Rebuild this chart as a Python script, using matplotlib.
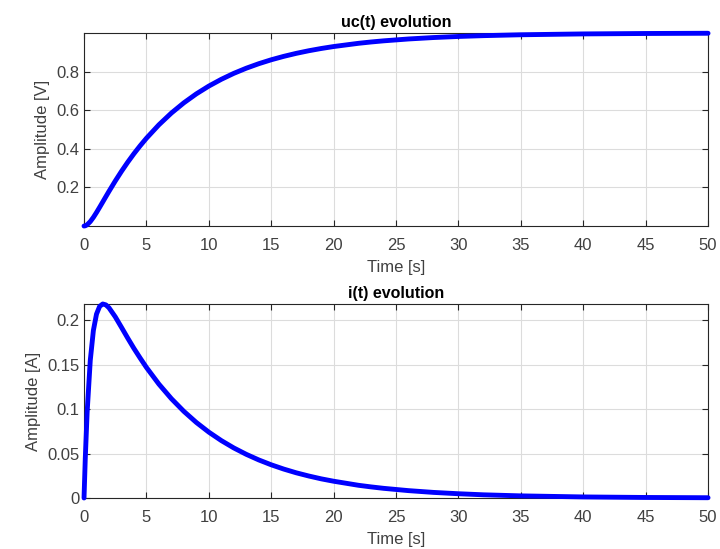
import numpy as np
import matplotlib
matplotlib.use("Agg")
import matplotlib.pyplot as plt

# values
t = [0, 0.1, 0.25, 0.5, 0.75, 1, 1.25, 1.5, 1.75, 2, 2.5, 3, 3.5, 4, 4.5, 5, 6, 7, 8,
     9, 10, 11, 12, 13, 14, 15, 16, 17, 18, 19, 20, 22, 23, 24, 26, 28, 30, 32,
     35, 40, 45, 50]
uc = [0, 0.0012, 0.0067, 0.0229, 0.0448, 0.0701, 0.0971, 0.1247, 0.1524, 0.1798,
      0.233, 0.2833, 0.3306, 0.3749, 0.4161, 0.4548, 0.5246, 0.5855, 0.6385,
      0.6849, 0.7252, 0.7603, 0.7911, 0.8178, 0.8411, 0.8615, 0.8792, 0.8947,
      0.9082, 0.9199, 0.9301, 0.9469, 0.9537, 0.9596, 0.9693, 0.9767, 0.9823,
      0.9865, 0.9911, 0.9955, 0.9977, 0.9989]
cur = [0, 0.0445, 0.0968, 0.155, 0.1888, 0.2072, 0.2159, 0.2186, 0.2176, 0.2143,
       0.2042, 0.1923, 0.1802, 0.1685, 0.1576, 0.1471, 0.1283, 0.1119, 0.0976,
       0.0851, 0.0742, 0.0647, 0.0564, 0.0492, 0.0429, 0.0374, 0.0326, 0.0284,
       0.0248, 0.0216, 0.0189, 0.0143, 0.0125, 0.0109, 0.0083, 0.0063, 0.0048,
       0.0036, 0.0024, 0.0012, 0.0006, 0.0003]

xticks = list(range(0, 51, 5))
uc_ticks = [0.2, 0.4, 0.6, 0.8]
i_ticks = [0, 0.05, 0.1, 0.15, 0.2]
i_ticklabels = ['0', '0.05', '0.1', '0.15', '0.2']

plt.rcParams['font.family'] = ['Liberation Sans', 'DejaVu Sans']
fg = '#262626'

fig = plt.figure(figsize=(7.2, 5.49), dpi=100)
ax1 = fig.add_axes([0.1167, 0.5883, 0.8667, 0.3515])
ax2 = fig.add_axes([0.1167, 0.0929, 0.8667, 0.3534])


def style(ax):
    ax.set_xlim(0, 50)
    ax.set_xticks(xticks)
    ax.grid(True, color='#dcdcdc', linewidth=0.8)
    ax.set_axisbelow(True)
    ax.tick_params(direction='in', top=True, right=True, length=4,
                   labelsize=12, colors=fg, labelcolor='#404040')
    ax.tick_params(axis='x', pad=8.5)
    for s in ax.spines.values():
        s.set_color(fg)
        s.set_linewidth(0.8)
    ax.set_xlabel('Time [s]', fontsize=12, color='#404040', labelpad=5.5)


ax1.plot(t, uc, color='#0000ff', lw=3.5, solid_capstyle='round',
         solid_joinstyle='round', clip_on=False, zorder=5)
style(ax1)
ax1.set_ylim(0, 1)
ax1.set_yticks(uc_ticks)
ax1.set_yticklabels([str(v) for v in uc_ticks])
ax1.set_ylabel('Amplitude [V]', fontsize=12, color='#404040')
ax1.set_title('uc(t) evolution', fontsize=11.5, fontweight='bold', pad=4)

ax2.plot(t, cur, color='#0000ff', lw=3.5, solid_capstyle='round',
         solid_joinstyle='round', clip_on=False, zorder=5)
style(ax2)
ax2.set_ylim(0, max(cur))
ax2.set_yticks(i_ticks)
ax2.set_yticklabels(i_ticklabels)
ax2.set_ylabel('Amplitude [A]', fontsize=12, color='#404040')
ax2.set_title('i(t) evolution', fontsize=11.5, fontweight='bold', pad=4)

fig.savefig('out.png', dpi=100)
